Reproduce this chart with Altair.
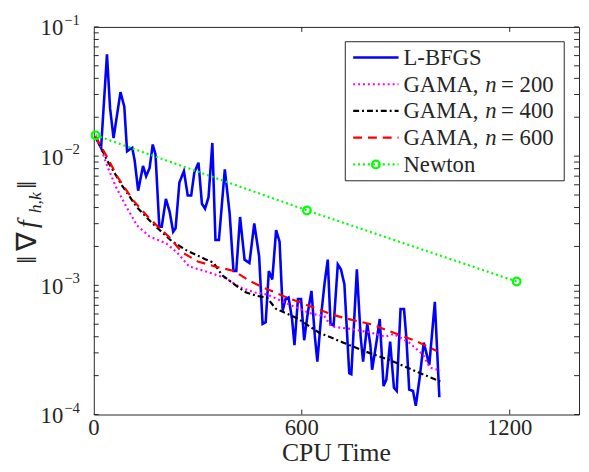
import altair as alt
import pandas as pd

# ---------------- data ----------------
lbfgs_t = [5, 21, 38, 47, 57, 77, 88, 96, 104, 111, 118, 128, 142, 151, 161, 170, 178, 189, 196,
           208, 219, 229, 236, 247, 260, 271, 281, 290, 302, 312, 321, 331, 342, 351, 361, 378,
           392, 403, 411, 422, 435, 449, 463, 477, 487, 496, 505, 515, 526, 536, 545, 553, 562,
           572, 579, 589, 598, 607, 617, 628, 638, 645, 657, 666, 675, 683, 692, 704, 713, 723,
           737, 743, 759, 770, 777, 789, 798, 803, 815, 825, 836, 844, 855, 866, 874, 885, 895,
           902, 910, 921, 929, 940, 952, 968, 984, 997]
lbfgs_g = [0.0140, 0.0116, 0.0615, 0.0234, 0.0138, 0.0313, 0.0241, 0.0109, 0.0113, 0.0116,
           0.0092, 0.0054, 0.0084, 0.0070, 0.0081, 0.0123, 0.0103, 0.00284, 0.00284, 0.00467,
           0.00369, 0.0026, 0.00276, 0.00625, 0.00767, 0.00496, 0.00496, 0.00747, 0.0089,
           0.00428, 0.00392, 0.00481, 0.01265, 0.00224, 0.00224, 0.0079, 0.00359, 0.00129,
           0.00129, 0.00338, 0.00158, 0.00149, 0.00301, 0.00168, 0.000503, 0.000519, 0.00129,
           0.00111, 0.00267, 0.00218, 0.000637, 0.000782, 0.000805, 0.000549, 0.000344,
           0.000782, 0.000782, 0.000376, 0.000601, 0.000906, 0.000398, 0.000257, 0.00062,
           0.00105, 0.00158, 0.000503, 0.000489, 0.00145, 0.00133, 0.00102, 0.000209,
           0.000205, 0.00133, 0.000398, 0.000257, 0.000503, 0.000344, 0.000222, 0.000355,
           0.000549, 0.000166, 0.000186, 0.000366, 0.000161, 0.000152, 0.000656, 0.000656,
           0.000387, 0.000156, 0.000152, 0.000117, 0.000191, 0.00036, 0.000242, 0.000746,
           0.000136]

g200_t = [5, 20, 40, 65, 95, 125, 160, 210, 240, 275, 320, 380, 420, 465, 500, 570, 630, 665,
          685, 740, 800, 840, 865, 910, 950, 970, 1000]
g200_g = [0.0142, 0.0116, 0.0082, 0.0057, 0.0040, 0.0029, 0.0024, 0.0021, 0.0018, 0.0014,
          0.00129, 0.00114, 0.00097, 0.00088, 0.00085, 0.00070, 0.00060, 0.00058, 0.00048,
          0.00046, 0.00043, 0.00040, 0.00042, 0.00036, 0.00029, 0.00023, 0.00022]

g400_t = [5, 40, 80, 125, 170, 225, 265, 320, 345, 370, 420, 440, 470, 500, 525, 590, 650, 720,
          780, 860, 940, 1000]
g400_g = [0.0142, 0.0091, 0.0060, 0.0040, 0.0030, 0.0022, 0.00188, 0.00160, 0.00150, 0.00120,
          0.00095, 0.00088, 0.00083, 0.00080, 0.00066, 0.00055, 0.00043, 0.00036, 0.00031,
          0.00026, 0.00021, 0.00018]

g600_t = [5, 35, 70, 115, 160, 215, 255, 300, 350, 405, 450, 490, 550, 630, 690, 745, 800, 875,
          930, 990]
g600_g = [0.0142, 0.0102, 0.0068, 0.0045, 0.0033, 0.0024, 0.0018, 0.00153, 0.00140, 0.00129,
          0.00108, 0.00096, 0.00082, 0.00068, 0.00059, 0.00054, 0.00050, 0.00042, 0.00037,
          0.00031]

newton_t = [5, 615, 1220]
newton_g = [0.0145, 0.0038, 0.00107]

x_tick_values = [0, 600, 1200]
x_tick_labels = ["0", "600", "1200"]
y_decades = [1e-4, 1e-3, 1e-2, 1e-1]
y_exponents = ["\u22124", "\u22123", "\u22122", "\u22121"]

# ---------------- style ----------------
FONT = "Liberation Serif"
TXT = "#262626"
W, H = 492, 393
xs = alt.Scale(domain=[0, 1400], nice=False, zero=False)
ys = alt.Scale(type="log", domain=[1e-4, 1e-1], nice=False)
one = pd.DataFrame({"a": [0]})


def line_layer(t, g, color, width, dash=None):
    df = pd.DataFrame({"t": t, "g": g})
    kw = dict(color=color, strokeWidth=width, clip=True)
    if dash:
        kw["strokeDash"] = dash
    return alt.Chart(df).mark_line(**kw).encode(
        x=alt.X("t:Q", scale=xs, axis=None),
        y=alt.Y("g:Q", scale=ys, axis=None),
        order=alt.Order("t:Q"),
    )


series = [
    dict(t=lbfgs_t, g=lbfgs_g, color="#0000FF", width=2.6, dash=None,
         label=[("L-BFGS", 0, False)]),
    dict(t=g200_t, g=g200_g, color="#FF00FF", width=2.2, dash=[2, 3],
         label=[("GAMA,", 0, False), ("n", 83, True), ("= 200", 99, False)]),
    dict(t=g400_t, g=g400_g, color="#000000", width=2.2, dash=[6, 3, 2, 3],
         label=[("GAMA,", 0, False), ("n", 83, True), ("= 400", 99, False)]),
    dict(t=g600_t, g=g600_g, color="#FF0000", width=2.2, dash=[9, 6],
         label=[("GAMA,", 0, False), ("n", 83, True), ("= 600", 99, False)]),
    dict(t=newton_t, g=newton_g, color="#00FF00", width=2.2, dash=[2, 3],
         label=[("Newton", 0, False)]),
]

layers = []

# x ticks (bottom and top, inside)
xt = pd.DataFrame({"v": x_tick_values[1:]})
for y0, y1 in [(H, H - 5), (0, 5)]:
    layers.append(
        alt.Chart(xt).mark_rule(color=TXT, strokeWidth=1).encode(
            x=alt.X("v:Q", scale=xs, axis=None), y=alt.value(y0), y2=alt.value(y1))
    )

# x tick labels and title
xl = pd.DataFrame({"v": x_tick_values, "s": x_tick_labels})
layers.append(
    alt.Chart(xl).mark_text(font=FONT, fontSize=23, color=TXT, align="center",
                            baseline="alphabetic").encode(
        x=alt.X("v:Q", scale=xs, axis=None), y=alt.value(H + 21), text="s:N")
)
layers.append(
    alt.Chart(one).mark_text(font=FONT, fontSize=26, color=TXT, align="center",
                             baseline="alphabetic").encode(
        x=alt.value(W / 2), y=alt.value(H + 47), text=alt.value("CPU Time"))
)

# y ticks (major + minor, both sides, inside)
minor = [k * d for d in y_decades[:-1] for k in range(1, 10)] + [y_decades[-1]]
yt = pd.DataFrame({"v": minor})
for x0, x1 in [(0, 5), (W, W - 5)]:
    layers.append(
        alt.Chart(yt).mark_rule(color=TXT, strokeWidth=1).encode(
            y=alt.Y("v:Q", scale=ys, axis=None), x=alt.value(x0), x2=alt.value(x1))
    )

# y tick labels 10^k
yl = pd.DataFrame({"v": y_decades, "e": y_exponents})
layers.append(
    alt.Chart(yl).mark_text(font=FONT, fontSize=23, color=TXT, align="right",
                            baseline="alphabetic", dy=8.5).encode(
        y=alt.Y("v:Q", scale=ys, axis=None), x=alt.value(-31), text=alt.value("10"))
)
layers.append(
    alt.Chart(yl).mark_text(font=FONT, fontSize=15, color=TXT, align="left",
                            baseline="alphabetic", dy=-2).encode(
        y=alt.Y("v:Q", scale=ys, axis=None), x=alt.value(-30), text="e:N")
)

# y axis title  ||∇ f_{h,k}||
ytitle = [("\u2016", -59, 240, 28, "normal"), ("\u2207", -59, 227, 28, "normal"),
          ("f", -59, 204, 28, "italic"), ("h,k", -54, 189, 18, "italic"),
          ("\u2016", -59, 164, 28, "normal")]
for txt, px, py, fs, style in ytitle:
    layers.append(
        alt.Chart(one).mark_text(font=FONT, fontSize=fs, fontStyle=style, color=TXT,
                                 angle=270, align="left", baseline="alphabetic").encode(
            x=alt.value(px), y=alt.value(py), text=alt.value(txt))
    )

# data lines
for s in series:
    layers.append(line_layer(s["t"], s["g"], s["color"], s["width"], s["dash"]))
nt = pd.DataFrame({"t": newton_t, "g": newton_g})
layers.append(
    alt.Chart(nt).mark_point(shape="circle", filled=False, size=60, strokeWidth=2.2,
                             color="#00FF00", opacity=1).encode(
        x=alt.X("t:Q", scale=xs, axis=None), y=alt.Y("g:Q", scale=ys, axis=None))
)

# legend
layers.append(
    alt.Chart(one).mark_rect(fill="white", stroke=TXT, strokeWidth=1).encode(
        x=alt.value(255), x2=alt.value(477), y=alt.value(15), y2=alt.value(156))
)
for i, s in enumerate(series):
    ry = 31 + 27.1 * i
    kw = dict(color=s["color"], strokeWidth=s["width"])
    if s["dash"]:
        kw["strokeDash"] = s["dash"]
    layers.append(
        alt.Chart(one).mark_rule(**kw).encode(
            x=alt.value(263), x2=alt.value(309), y=alt.value(ry))
    )
    if s["color"] == "#00FF00":
        layers.append(
            alt.Chart(one).mark_point(shape="circle", filled=False, size=60,
                                      strokeWidth=2.2, color="#00FF00", opacity=1).encode(
                x=alt.value(286), y=alt.value(ry))
        )
    for txt, dx, ital in s["label"]:
        layers.append(
            alt.Chart(one).mark_text(font=FONT, fontSize=23, color=TXT, align="left",
                                     baseline="alphabetic", dy=7.5,
                                     fontStyle="italic" if ital else "normal").encode(
                x=alt.value(314 + dx), y=alt.value(ry), text=alt.value(txt))
        )

chart = alt.layer(*layers).properties(
    width=W, height=H,
    autosize=alt.AutoSizeParams(type="none"),
    padding={"left": 87, "top": 16, "right": 2, "bottom": 49},
    background="white",
).configure_view(stroke=TXT, strokeWidth=1)

chart.save("out.html", embed_options={"renderer": "svg", "actions": False})
